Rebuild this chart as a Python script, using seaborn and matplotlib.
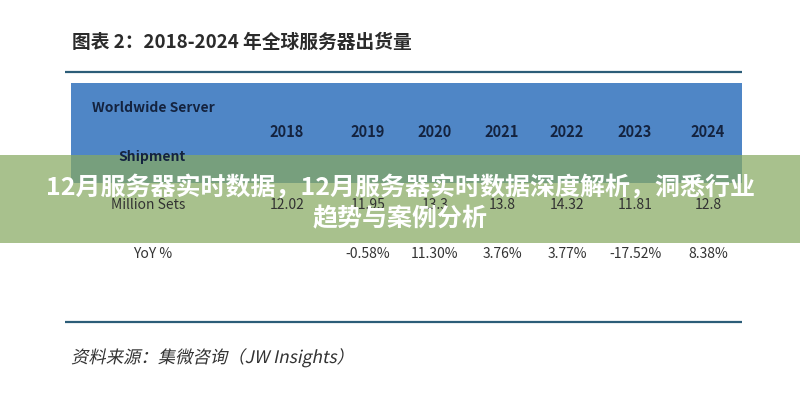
import matplotlib
matplotlib.use("Agg")
import matplotlib.pyplot as plt
import seaborn as sns
from matplotlib.patches import Rectangle, PathPatch
from matplotlib.textpath import TextPath
from matplotlib.font_manager import FontProperties
from matplotlib.transforms import Affine2D

# table content
title = "图表 2：2018-2024 年全球服务器出货量"
years = ["2018", "2019", "2020", "2021", "2022", "2023", "2024"]
shipments = [12.02, 11.95, 13.3, 13.8, 14.32, 11.81, 12.8]
yoy_pct = [None, -0.58, 11.30, 3.76, 3.77, -17.52, 8.38]
row_labels = ["Million Sets", "YoY %"]
source = "资料来源：集微咨询（JW Insights）"
banner = ["12月服务器实时数据，12月服务器实时数据深度解析，洞悉行业", "趋势与案例分析"]

sns.set_theme(style="white")
plt.rcParams["font.family"] = ["Noto Sans CJK SC", "DejaVu Sans"]

fig = plt.figure(figsize=(8, 4), dpi=100)
ax = fig.add_axes([0, 0, 1, 1])
ax.set_xlim(0, 800)
ax.set_ylim(400, 0)
ax.axis("off")

# layout (pixel space)
col_x = [287, 368, 435, 502, 567, 635, 708]
navy = "#14233f"
body = "#333333"
rule = "#2c5d78"

ax.text(72, 42, title, fontsize=13.5, fontweight="bold", color="#2b2b2b",
        va="center", ha="left")
ax.hlines(72, 65, 742, color=rule, lw=1.6)

# blue header block
ax.add_patch(Rectangle((71, 83), 671, 100, color="#4f86c6", lw=0))
ax.text(92, 108, "Worldwide Server", fontsize=10, fontweight="bold",
        color=navy, va="center", ha="left")
ax.text(152, 157, "Shipment", fontsize=10, fontweight="bold",
        color=navy, va="center", ha="center")
for x, yr in zip(col_x, years):
    ax.text(x, 132, yr, fontsize=10.5, fontweight="bold", color=navy,
            va="center", ha="center")

# body rows
ax.text(148, 205, row_labels[0], fontsize=10, color=body,
        va="center", ha="center")
for x, v in zip(col_x, shipments):
    ax.text(x, 205, f"{v:g}", fontsize=10, color=body,
            va="center", ha="center")
ax.text(153, 254, row_labels[1], fontsize=10, color=body,
        va="center", ha="center")
for x, v in zip(col_x, yoy_pct):
    if v is None:
        continue
    ax.text(x, 254, f"{v:.2f}%", fontsize=10, color=body,
            va="center", ha="center")

ax.hlines(322, 65, 742, color=rule, lw=1.6)

# source line, slanted like the original italic
fp = FontProperties(family="Noto Sans CJK SC")
tp = TextPath((0, 0), source, prop=fp, size=12.5)
tr = Affine2D().skew_deg(12, 0).scale(100 / 72, -100 / 72).translate(71, 363)
ax.add_patch(PathPatch(tp, transform=tr + ax.transData, color="#333333", lw=0))

# overlay banner
ax.add_patch(Rectangle((0, 155), 800, 88, color="#87aa61", alpha=0.72, lw=0))
ax.text(400, 187, banner[0], fontsize=18, fontweight="bold", color="white",
        va="center", ha="center")
ax.text(400, 219, banner[1], fontsize=18, fontweight="bold", color="white",
        va="center", ha="center")

fig.savefig("out.png", dpi=100)
plt.close(fig)
